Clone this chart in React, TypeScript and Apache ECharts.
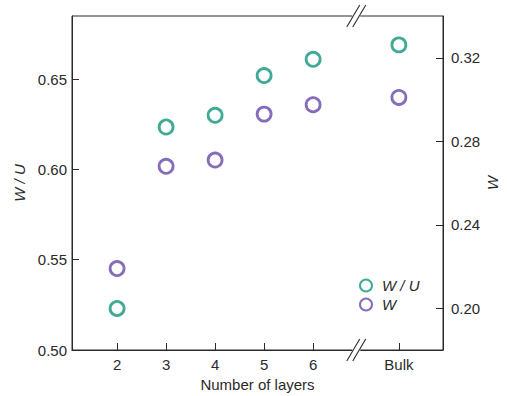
import React, { useEffect, useRef } from "react";
import * as echarts from "echarts";

const layerPositions = [2, 3, 4, 5, 6, 7.75];
const layerLabels = ["2", "3", "4", "5", "6", "Bulk"];
const wOverU = [0.523, 0.6235, 0.63, 0.652, 0.661, 0.669];
const wValues = [0.219, 0.268, 0.271, 0.293, 0.2975, 0.301];
const leftTicks = [0.5, 0.55, 0.6, 0.65];
const rightTicks = [0.2, 0.24, 0.28, 0.32];
const breakAt = 6.88;

const GREEN = "#12957a";
const PURPLE = "#6648a8";
const INK = "#2a2a2a";
const FONT = "'Liberation Sans', Arial, sans-serif";
const FS = 15;

export default function App() {
  const ref = useRef<HTMLDivElement>(null);
  useEffect(() => {
    document.body.style.margin = "0";
    if (!ref.current) return;
    const chart = echarts.init(ref.current, null, { renderer: "svg" });
    const axisLine = { show: true, lineStyle: { color: INK, width: 1 } };
    const tick = (vals: number[]) => ({
      show: true,
      inside: true,
      length: 7,
      customValues: vals,
      lineStyle: { color: INK, width: 1 },
    });
    chart.setOption({
      animation: false,
      textStyle: { fontFamily: FONT },
      grid: {
        left: 72,
        right: 64,
        top: 16,
        bottom: 46,
        containLabel: false,
        outerBoundsMode: "none",
        show: true,
        borderColor: INK,
        borderWidth: 1,
        backgroundColor: "transparent",
      },
      legend: {
        left: 359,
        top: 278,
        orient: "vertical",
        itemWidth: 12,
        itemHeight: 12,
        itemGap: 4,
        padding: 0,
        icon: "circle",
        textStyle: {
          fontSize: FS,
          fontStyle: "italic",
          color: INK,
          fontFamily: FONT,
          lineHeight: 15,
          padding: [0, 0, 0, 5],
        },
        data: ["W / U", "W"],
      },
      xAxis: {
        type: "value",
        min: 1.08,
        max: 8.65,
        name: "Number of layers",
        nameLocation: "middle",
        nameGap: 24,
        nameTextStyle: { fontSize: FS, color: INK, fontFamily: FONT },
        axisLine,
        axisTick: tick(layerPositions),
        splitLine: { show: false },
        axisLabel: {
          customValues: layerPositions,
          margin: 7,
          fontSize: FS,
          color: INK,
          fontFamily: FONT,
          formatter: (v: number) => {
            const i = layerPositions.findIndex((p) => Math.abs(p - v) < 1e-6);
            return i >= 0 ? layerLabels[i] : "";
          },
        },
      },
      yAxis: [
        {
          type: "value",
          min: 0.5,
          max: 0.685,
          position: "left",
          name: "W / U",
          nameLocation: "middle",
          nameGap: 44,
          nameRotate: 90,
          nameTextStyle: { fontSize: FS, fontStyle: "italic", color: INK, fontFamily: FONT },
          axisLine,
          axisTick: tick(leftTicks),
          splitLine: { show: false },
          axisLabel: {
            customValues: leftTicks,
            margin: 5,
            fontSize: FS,
            color: INK,
            fontFamily: FONT,
            formatter: (v: number) => v.toFixed(2),
          },
        },
        {
          type: "value",
          min: 0.18,
          max: 0.34,
          position: "right",
          name: "W",
          nameLocation: "middle",
          nameGap: 42,
          nameMoveOverlap: false,
          nameRotate: 90,
          nameTextStyle: { fontSize: FS, fontStyle: "italic", color: INK, fontFamily: FONT },
          axisLine,
          axisTick: tick(rightTicks),
          splitLine: { show: false },
          axisLabel: {
            customValues: rightTicks,
            margin: 8,
            fontSize: FS,
            color: INK,
            fontFamily: FONT,
            formatter: (v: number) => v.toFixed(2),
          },
        },
      ],
      series: [
        {
          name: "W / U",
          type: "scatter",
          yAxisIndex: 0,
          symbol: "circle",
          symbolSize: 14,
          itemStyle: { color: "#fff", borderColor: GREEN, borderWidth: 2.8 },
          data: layerPositions.map((x, i) => [x, wOverU[i]]),
        },
        {
          name: "W",
          type: "scatter",
          yAxisIndex: 1,
          symbol: "circle",
          symbolSize: 14,
          itemStyle: { color: "#fff", borderColor: PURPLE, borderWidth: 2.8 },
          data: layerPositions.map((x, i) => [x, wValues[i]]),
        },
      ],
    });

    const bx = chart.convertToPixel({ xAxisIndex: 0 }, breakAt) as number;
    const yTop = chart.convertToPixel({ yAxisIndex: 0 }, 0.685) as number;
    const yBot = chart.convertToPixel({ yAxisIndex: 0 }, 0.5) as number;
    const slash = (cx: number, cy: number) => {
      const dx = 6.5;
      const dy = 11;
      return [-3, 3].map((off) => ({
        type: "line",
        shape: { x1: cx + off - dx, y1: cy + dy, x2: cx + off + dx, y2: cy - dy },
        style: { stroke: INK, lineWidth: 1.1 },
        z: 100,
      }));
    };
    const gap = (cy: number) => ({
      type: "rect",
      shape: { x: bx - 4, y: cy - 2, width: 8, height: 4 },
      style: { fill: "#fff" },
      z: 99,
    });
    chart.setOption({
      graphic: [gap(yTop), gap(yBot), ...slash(bx, yTop), ...slash(bx, yBot)],
    });

    return () => chart.dispose();
  }, []);
  return <div ref={ref} style={{ width: 507, height: 396 }} />;
}
